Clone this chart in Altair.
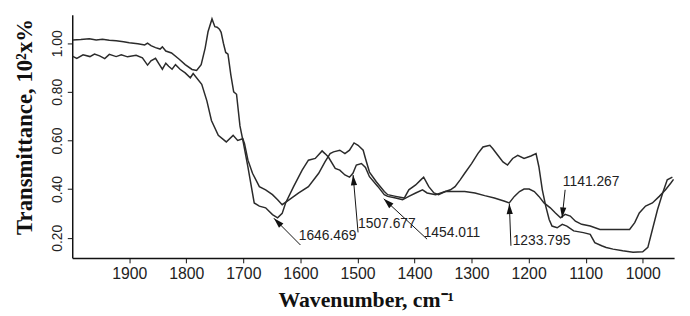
import math
import altair as alt
import pandas as pd

# ---- spectrum 1 (curve with the marked bands) ----
A_WN = [1999, 1985, 1970, 1958, 1947, 1935, 1923, 1910, 1900, 1885, 1873, 1868, 1862, 1854,
        1846, 1842, 1836, 1826, 1813, 1802, 1790, 1782, 1774, 1767, 1762, 1755, 1750, 1746,
        1742, 1739, 1735, 1731, 1727, 1722, 1717, 1712, 1706, 1700, 1692, 1681, 1672, 1661,
        1649, 1640, 1632, 1626, 1612, 1597, 1586, 1574, 1562, 1557, 1551, 1539, 1531, 1522,
        1514, 1508, 1502, 1493, 1486, 1479, 1464, 1453, 1447, 1433, 1421, 1410, 1398, 1386,
        1378, 1363, 1346, 1329, 1312, 1294, 1277, 1260, 1242, 1234, 1225, 1216, 1208, 1199,
        1190, 1182, 1173, 1162, 1153, 1144, 1136, 1127, 1118, 1107, 1092, 1075, 1058, 1040,
        1023, 1014, 1006, 995, 983, 971, 960, 951, 946]
A_T = [1.013, 1.015, 1.018, 1.013, 1.016, 1.012, 1.010, 1.006, 1.002, 0.998, 0.993, 1.000, 0.990, 0.982,
       0.976, 0.985, 0.968, 0.960, 0.935, 0.912, 0.892, 0.888, 0.912, 0.980, 1.047, 1.100, 1.068, 1.066,
       1.058, 1.045, 1.000, 0.962, 0.955, 0.870, 0.800, 0.790, 0.660, 0.590, 0.490, 0.343, 0.330, 0.323,
       0.295, 0.282, 0.300, 0.343, 0.410, 0.478, 0.519, 0.526, 0.557, 0.546, 0.532, 0.485, 0.478, 0.458,
       0.449, 0.465, 0.499, 0.505, 0.489, 0.451, 0.410, 0.377, 0.370, 0.363, 0.356, 0.370, 0.384, 0.397,
       0.384, 0.377, 0.390, 0.390, 0.390, 0.384, 0.373, 0.363, 0.350, 0.343, 0.370, 0.390, 0.400, 0.400,
       0.390, 0.370, 0.343, 0.323, 0.302, 0.282, 0.296, 0.289, 0.268, 0.255, 0.248, 0.234, 0.234, 0.234,
       0.234, 0.262, 0.302, 0.330, 0.343, 0.370, 0.397, 0.424, 0.440]

# ---- spectrum 2 ----
B_WN = [1999, 1992, 1981, 1969, 1961, 1952, 1943, 1935, 1923, 1914, 1903, 1888, 1877, 1868,
        1862, 1854, 1848, 1842, 1836, 1831, 1825, 1819, 1811, 1802, 1793, 1788, 1773, 1764,
        1756, 1744, 1730, 1718, 1710, 1701, 1698, 1692, 1684, 1672, 1661, 1649, 1640, 1632,
        1620, 1603, 1586, 1568, 1557, 1548, 1542, 1531, 1522, 1514, 1506, 1499, 1490, 1486,
        1479, 1467, 1453, 1447, 1433, 1418, 1410, 1398, 1389, 1384, 1375, 1366, 1358, 1346,
        1337, 1329, 1320, 1312, 1300, 1289, 1280, 1268, 1263, 1254, 1245, 1237, 1228, 1219,
        1208, 1196, 1187, 1182, 1176, 1170, 1164, 1159, 1150, 1141, 1133, 1121, 1104, 1092,
        1084, 1072, 1064, 1052, 1035, 1017, 1000, 991, 983, 974, 965, 957, 948]
B_T = [0.946, 0.938, 0.952, 0.945, 0.955, 0.948, 0.937, 0.954, 0.945, 0.952, 0.944, 0.950, 0.940, 0.910,
       0.928, 0.938, 0.915, 0.893, 0.918, 0.905, 0.893, 0.912, 0.893, 0.878, 0.858, 0.875, 0.831, 0.763,
       0.682, 0.621, 0.594, 0.621, 0.600, 0.607, 0.587, 0.519, 0.465, 0.410, 0.397, 0.377, 0.356, 0.336,
       0.356, 0.384, 0.410, 0.465, 0.512, 0.546, 0.553, 0.560, 0.546, 0.560, 0.590, 0.580, 0.560, 0.526,
       0.470, 0.430, 0.390, 0.377, 0.370, 0.363, 0.397, 0.417, 0.438, 0.449, 0.410, 0.384, 0.377, 0.390,
       0.397, 0.410, 0.438, 0.465, 0.505, 0.546, 0.573, 0.580, 0.567, 0.539, 0.512, 0.499, 0.526, 0.539,
       0.526, 0.536, 0.546, 0.492, 0.397, 0.330, 0.275, 0.248, 0.241, 0.255, 0.248, 0.228, 0.221, 0.214,
       0.180, 0.167, 0.160, 0.153, 0.146, 0.140, 0.142, 0.160, 0.234, 0.316, 0.384, 0.438, 0.449]

X_TICKS = [1900, 1800, 1700, 1600, 1500, 1400, 1300, 1200, 1100, 1000]
Y_TICKS = [0.20, 0.40, 0.60, 0.80, 1.00]

# ---- band annotations ----
PEAK_LABELS = ["1646.469", "1507.677", "1454.011", "1233.795", "1141.267"]
TIP_WN = [1646.5, 1507.7, 1454.0, 1233.8, 1141.3]
TIP_T = [0.280, 0.458, 0.360, 0.340, 0.282]
TAIL_WN = [1600, 1499, 1378, 1231, 1136]
TAIL_T = [0.170, 0.222, 0.194, 0.167, 0.397]
TEXT_WN = [1603, 1499, 1384, 1228, 1140]
TEXT_T = [0.208, 0.255, 0.221, 0.187, 0.431]

X_DOMAIN = [2000, 945]
Y_DOMAIN = [0.117, 1.117]
W, H = 609, 246
INK = "#2b2b2b"


def px(wn):
    return (X_DOMAIN[0] - wn) / (X_DOMAIN[0] - X_DOMAIN[1]) * W


def py(t):
    return (Y_DOMAIN[1] - t) / (Y_DOMAIN[1] - Y_DOMAIN[0]) * H


angles = []
for tw, tt, sw, st in zip(TIP_WN, TIP_T, TAIL_WN, TAIL_T):
    dx = px(tw) - px(sw)
    dy = py(tt) - py(st)
    angles.append(math.degrees(math.atan2(dx, -dy)) % 360)

spec = pd.DataFrame({
    "wn": A_WN + B_WN,
    "t": A_T + B_T,
    "s": ["a"] * len(A_WN) + ["b"] * len(B_WN),
})
ann = pd.DataFrame({
    "label": PEAK_LABELS, "tip_wn": TIP_WN, "tip_t": TIP_T,
    "tail_wn": TAIL_WN, "tail_t": TAIL_T, "text_wn": TEXT_WN, "text_t": TEXT_T,
    "angle": angles,
})

xs = alt.Scale(domain=X_DOMAIN, nice=False, zero=False)
ys = alt.Scale(domain=Y_DOMAIN, nice=False, zero=False)

x_axis = alt.Axis(
    values=X_TICKS, format="d", title="Wavenumber, cm\u207b\u00b9",
    labelFont="Liberation Sans", labelFontSize=16, labelColor="#222", labelPadding=3,
    titleFont="Liberation Serif", titleFontSize=22, titleFontWeight="bold", titleColor="#111",
    titleX=297, titleY=49, titleBaseline="alphabetic", titleAlign="center",
    grid=False, tickSize=5, tickColor="#111", domainColor="#111", domainWidth=1.5,
)
y_axis = alt.Axis(
    values=Y_TICKS, format=".2f", title="Transmittance, 10\u00b2x%",
    labelFont="Liberation Sans", labelFontSize=14, labelColor="#222", labelAngle=270,
    labelAlign="center", labelBaseline="bottom", labelPadding=3,
    titleFont="Liberation Serif", titleFontSize=23, titleFontWeight="bold", titleColor="#111",
    titleX=-48, titleY=113, titleAngle=270, titleBaseline="middle", titleAlign="center",
    grid=False, tickSize=5, tickColor="#111", domainColor="#111", domainWidth=1.5,
)

lines = alt.Chart(spec).mark_line(color=INK, strokeWidth=1.5).encode(
    x=alt.X("wn:Q", scale=xs, axis=x_axis),
    y=alt.Y("t:Q", scale=ys, axis=y_axis),
    detail="s:N",
)

arrows = alt.Chart(ann).mark_rule(color="#111", strokeWidth=1).encode(
    x=alt.X("tail_wn:Q", scale=xs, axis=x_axis),
    y=alt.Y("tail_t:Q", scale=ys, axis=y_axis),
    x2="tip_wn:Q",
    y2="tip_t:Q",
)

heads = alt.Chart(ann).mark_point(
    shape="M0,0L0.6,2L-0.6,2Z", filled=True, size=110, color="#111", opacity=1
).encode(
    x=alt.X("tip_wn:Q", scale=xs, axis=x_axis),
    y=alt.Y("tip_t:Q", scale=ys, axis=y_axis),
    angle=alt.Angle("angle:Q", scale=None),
)

texts = alt.Chart(ann).mark_text(
    align="left", baseline="middle", font="Liberation Sans", fontSize=14, color="#222"
).encode(
    x=alt.X("text_wn:Q", scale=xs, axis=x_axis),
    y=alt.Y("text_t:Q", scale=ys, axis=y_axis),
    text="label:N",
)

chart = alt.layer(lines, arrows, heads, texts).properties(
    width=W, height=H,
    autosize=alt.AutoSizeParams(type="none"),
    padding={"left": 65, "top": 5, "right": 8, "bottom": 62},
).configure_view(stroke=None)

chart.save("out.html", embed_options={"renderer": "svg", "actions": False})
